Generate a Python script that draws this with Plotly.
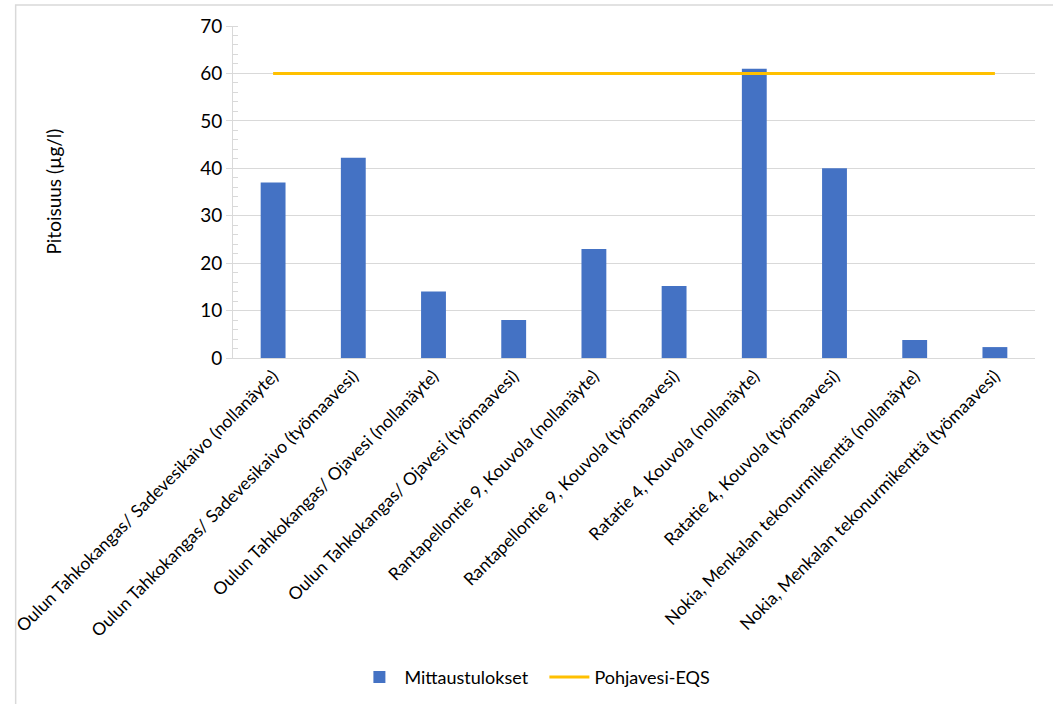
import plotly.graph_objects as go

categories = [
    "Oulun Tahkokangas/ Sadevesikaivo (nollanäyte)",
    "Oulun Tahkokangas/ Sadevesikaivo (työmaavesi)",
    "Oulun Tahkokangas/ Ojavesi (nollanäyte)",
    "Oulun Tahkokangas/ Ojavesi (työmaavesi)",
    "Rantapellontie 9, Kouvola (nollanäyte)",
    "Rantapellontie 9, Kouvola (työmaavesi)",
    "Ratatie 4, Kouvola (nollanäyte)",
    "Ratatie 4, Kouvola (työmaavesi)",
    "Nokia, Menkalan tekonurmikenttä (nollanäyte)",
    "Nokia, Menkalan tekonurmikenttä (työmaavesi)",
]
mittaustulokset = [37, 42.2, 14, 8, 23, 15.2, 61, 40, 3.8, 2.3]
eqs = [60, 60, 60, 60, 60, 60, 60, 60, 60, 60]

FONT = "Lato, Carlito, Calibri, sans-serif"

fig = go.Figure()
fig.add_trace(go.Bar(
    x=categories, y=mittaustulokset, name="Mittaustulokset",
    marker=dict(color="#4472C4", line=dict(width=0)),
))
fig.add_trace(go.Scatter(
    x=categories, y=eqs, name="Pohjavesi-EQS", mode="lines",
    line=dict(color="#FFC000", width=3),
))

fig.update_layout(
    width=1053, height=704,
    margin=dict(l=226, r=18, t=26, b=346),
    paper_bgcolor="white", plot_bgcolor="white",
    bargap=0.69,
    font=dict(family=FONT, color="#000000"),
    showlegend=True,
    legend=dict(
        orientation="h", xref="container", yref="container",
        x=0.517, xanchor="center", y=0.038, yanchor="middle",
        font=dict(size=18, family=FONT), itemwidth=40,
        traceorder="normal", entrywidth=135,
    ),
    xaxis=dict(
        type="category", tickangle=-45, tickfont=dict(size=17.5, family=FONT),
        showline=True, linecolor="#D9D9D9", linewidth=1,
        ticks="", showgrid=False,
    ),
    yaxis=dict(
        range=[0, 70], dtick=10, tick0=0,
        tickfont=dict(size=19, family=FONT),
        showgrid=True, gridcolor="#D9D9D9", gridwidth=1,
        showline=True, linecolor="#D9D9D9", linewidth=1,
        ticks="outside", ticklen=6, tickcolor="#D9D9D9",
        minor=dict(dtick=2, ticks="inside", ticklen=5, tickcolor="#D9D9D9", showgrid=False),
        zeroline=False,
    ),
    annotations=[dict(
        text="Pitoisuus (µg/l)", xref="paper", yref="paper",
        x=-0.225, y=0.5, textangle=-90, showarrow=False,
        font=dict(size=19, family=FONT), xanchor="center", yanchor="middle",
    )],
    shapes=[dict(
        type="rect", xref="paper", yref="paper",
        x0=-0.271, x1=1.05, y0=-1.2, y1=1.063,
        line=dict(color="#D9D9D9", width=1.5), fillcolor="rgba(0,0,0,0)", layer="below",
    )],
)

fig.write_html("out.html")
